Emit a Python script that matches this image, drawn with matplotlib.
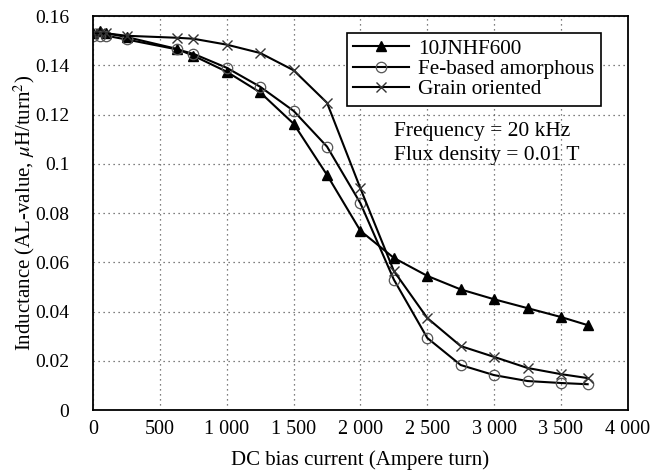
import matplotlib

matplotlib.use("Agg")
import matplotlib.pyplot as plt

# DC bias current (Ampere turn)
current = [0, 50, 100, 250, 625, 750, 1000, 1250, 1500, 1750, 2000, 2250, 2500, 2750, 3000, 3250, 3500, 3700]

# inductance (AL-value, uH/turn^2)
jnhf600 = [0.153, 0.154, 0.153, 0.1515, 0.1467, 0.1439, 0.1374, 0.129, 0.1163, 0.0955, 0.0728,
           0.0618, 0.0545, 0.049, 0.045, 0.0414, 0.0378, 0.0345]
amorphous = [0.152, 0.152, 0.152, 0.1505, 0.1465, 0.1447, 0.139, 0.1313, 0.1215, 0.107, 0.0840,
             0.0530, 0.0293, 0.0183, 0.0142, 0.0118, 0.011, 0.0105]
grain = [0.153, 0.153, 0.153, 0.152, 0.1512, 0.1508, 0.1484, 0.145, 0.138, 0.1248, 0.0900,
         0.0565, 0.0374, 0.026, 0.0216, 0.0171, 0.0146, 0.0130]

x_ticks = [0, 500, 1000, 1500, 2000, 2500, 3000, 3500, 4000]
x_labels = ["0", "500", "1 000", "1 500", "2 000", "2 500", "3 000", "3 500", "4 000"]
y_ticks = [0, 0.02, 0.04, 0.06, 0.08, 0.1, 0.12, 0.14, 0.16]
y_labels = ["0", "0.02", "0.04", "0.06", "0.08", "0.1", "0.12", "0.14", "0.16"]

plt.rcParams["font.family"] = ["Liberation Serif", "DejaVu Serif"]
plt.rcParams["mathtext.fontset"] = "stix"
plt.rcParams["font.size"] = 14

fig = plt.figure(figsize=(6.65, 4.73), dpi=100)
ax = fig.add_axes([0.14, 0.133, 0.804, 0.833])

ax.plot(current, jnhf600, color="black", lw=1.5, marker="^", ms=7, label="10JNHF600")
ax.plot(current, amorphous, color="black", lw=1.5, marker="o", ms=7.5,
        mfc="none", mec="#555555", mew=0.9, label="Fe-based amorphous")
ax.plot(current, grain, color="black", lw=1.5, marker="x", ms=7.5,
        mec="#333333", mew=1.0, label="Grain oriented")

ax.set_xlim(0, 4000)
ax.set_ylim(0, 0.16)
ax.set_xticks(x_ticks)
ax.set_xticklabels(x_labels)
ax.set_yticks(y_ticks)
ax.set_yticklabels(y_labels)
ax.tick_params(axis="x", length=0, pad=7, labelsize=14.5)
ax.tick_params(axis="y", length=0, pad=17, labelsize=14)
ax.grid(True, color="#555555", linestyle=(0, (1, 3)), linewidth=0.9)
for s in ax.spines.values():
    s.set_linewidth(1.3)

ax.set_xlabel("DC bias current (Ampere turn)", labelpad=8, fontsize=15)
ax.set_ylabel(r"Inductance (AL-value, $\mu$H/turn$^2$)", labelpad=-1, fontsize=15)

leg = ax.legend(loc="upper left", bbox_to_anchor=(0.475, 0.958), borderaxespad=0,
                fancybox=False, edgecolor="black", framealpha=1, handlelength=2.6,
                labelspacing=0.02, borderpad=0.3, handletextpad=0.45, fontsize=15.3)
leg.get_frame().set_linewidth(1.2)

ax.text(0.562, 0.695, "Frequency = 20 kHz", transform=ax.transAxes, fontsize=15.5)
ax.text(0.562, 0.635, "Flux density = 0.01 T", transform=ax.transAxes, fontsize=15.5)

fig.savefig("out.png", dpi=100)
